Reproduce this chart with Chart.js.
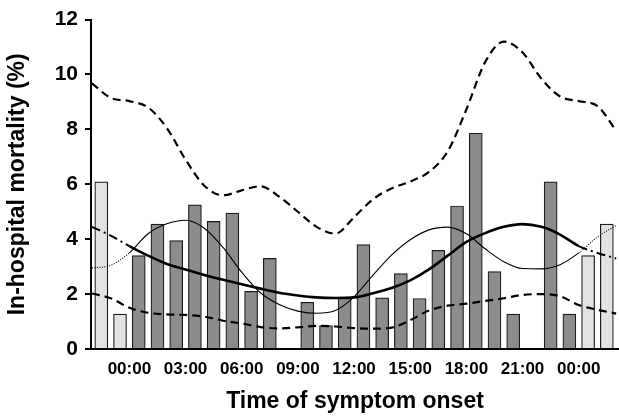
<!DOCTYPE html>
<html>
<head>
<meta charset="utf-8">
<script src="https://cdn.jsdelivr.net/npm/chart.js@4/dist/chart.umd.min.js"></script>
<style>
  body { margin: 0; background: #fff; }
</style>
</head>
<body>
<canvas id="graficoMortalidad" width="619" height="420"></canvas>
<script>
// hourly in-hospital mortality (%), hours 00..23 (null = no bar)
var mortality = [3.4, 4.55, 3.95, 5.25, 4.65, 4.95, 2.1, 3.3, null, 1.7, 0.85, 1.85,
                 3.8, 1.86, 2.75, 1.84, 3.59, 5.21, 7.86, 2.82, 1.27, null, 6.09, 1.27];
// hours repeated at both ends (drawn light)
var wrapHours = [-2, -1, 24, 25];
var wrapSource = [22, 23, 0, 1];

// curves read at each hour, from -2 to 26
var curveHours = [-2, -1, 0, 1, 2, 3, 4, 5, 6, 7, 8, 9, 10, 11, 12, 13, 14,
                  15, 16, 17, 18, 19, 20, 21, 22, 23, 24, 25, 26];
var upperCI = [9.68, 9.15, 9.03, 8.8, 8.05, 6.9, 5.95, 5.6, 5.78, 5.93, 5.55, 5.0, 4.45, 4.2,
               4.8, 5.45, 5.85, 6.1, 6.45, 7.2, 8.73, 10.45, 11.2, 10.8, 9.85, 9.2, 9.03, 8.85, 7.95];
var lowerCI = [2.02, 1.85, 1.5, 1.32, 1.26, 1.24, 1.18, 1.03, 0.93, 0.8, 0.75, 0.79, 0.84, 0.82,
               0.76, 0.74, 0.78, 1.05, 1.4, 1.58, 1.65, 1.75, 1.85, 1.97, 2.0, 1.92, 1.6, 1.43, 1.29];
var fitThick = [4.45, 4.13, 3.75, 3.4, 3.1, 2.9, 2.7, 2.52, 2.36, 2.2, 2.05, 1.95, 1.88, 1.86,
                1.88, 2.03, 2.22, 2.5, 2.9, 3.4, 3.9, 4.22, 4.45, 4.55, 4.45, 4.17, 3.75, 3.5, 3.3];
var fitThin = [2.95, 3.05, 3.5, 4.2, 4.56, 4.69, 4.4, 3.7, 2.8, 2.05, 1.62, 1.38, 1.3, 1.4,
               1.9, 2.68, 3.42, 3.98, 4.34, 4.44, 4.2, 3.65, 3.18, 2.93, 2.92, 3.07, 3.5, 4.08, 4.5];

var tickHours = [0, 3, 6, 9, 12, 15, 18, 21, 24];

function puntos(ys) {
    return curveHours.map(function (h, i) { return {x: h, y: ys[i]}; });
}
function fuera(ctx) {
    return ctx.p0.parsed.x < 0 || ctx.p1.parsed.x > 24;
}

var barrasDia = [];
mortality.forEach(function (v, h) {
    if (v !== null) barrasDia.push({x: h + 0.5, y: v});
});
var barrasExtra = wrapHours.map(function (h, i) {
    return {x: h + 0.5, y: mortality[wrapSource[i]]};
});

var fuente = "'Liberation Sans', Arial, sans-serif";

var ctx = document.getElementById('graficoMortalidad').getContext('2d');
var chart = new Chart(ctx, {
    type: 'bar',
    data: {
        datasets: [{
            type: 'line', data: puntos(upperCI), order: 1,
            borderColor: '#000', borderWidth: 2.2, borderDash: [8, 5],
            pointRadius: 0, cubicInterpolationMode: 'monotone'
        }, {
            type: 'line', data: puntos(lowerCI), order: 1,
            borderColor: '#000', borderWidth: 2.2, borderDash: [8, 5],
            pointRadius: 0, cubicInterpolationMode: 'monotone'
        }, {
            type: 'line', data: puntos(fitThick), order: 1,
            borderColor: '#000', borderWidth: 2.6,
            pointRadius: 0, cubicInterpolationMode: 'monotone',
            segment: {
                borderDash: function (c) { return fuera(c) ? [9, 4, 2, 4] : []; },
                borderWidth: function (c) { return fuera(c) ? 2 : 2.6; }
            }
        }, {
            type: 'line', data: puntos(fitThin), order: 1,
            borderColor: '#000', borderWidth: 1.1,
            pointRadius: 0, cubicInterpolationMode: 'monotone',
            segment: {
                borderDash: function (c) { return fuera(c) ? [1, 1.5] : []; }
            }
        }, {
            data: barrasDia, order: 2, grouped: false,
            backgroundColor: '#8c8c8c', borderColor: '#1a1a1a', borderWidth: 1.2,
            barThickness: 13
        }, {
            data: barrasExtra, order: 2, grouped: false,
            backgroundColor: '#e2e2e2', borderColor: '#1a1a1a', borderWidth: 1.2,
            barThickness: 13
        }]
    },
    options: {
        responsive: false,
        animation: false,
        layout: { padding: { top: 16, right: 0, left: 0, bottom: 0 } },
        plugins: { legend: { display: false }, tooltip: { enabled: false } },
        scales: {
            x: {
                type: 'linear', min: -2.05, max: 26.15, offset: false,
                afterBuildTicks: function (axis) {
                    axis.ticks = tickHours.map(function (v) { return {value: v}; });
                },
                afterFit: function (s) { s.height = 71; },
                grid: { display: false, drawTicks: false },
                border: { color: '#000', width: 2 },
                ticks: {
                    padding: 10, color: '#000', maxRotation: 0, autoSkip: false,
                    font: { family: fuente, size: 17, weight: 'bold' },
                    callback: function (v) {
                        var h = ((v % 24) + 24) % 24;
                        return (h < 10 ? '0' : '') + h + ':00';
                    }
                },
                title: {
                    display: true, text: 'Time of symptom onset', color: '#000',
                    font: { family: fuente, size: 23, weight: 'bold' },
                    padding: { top: 0, bottom: 5 }
                }
            },
            y: {
                min: 0, max: 12,
                afterFit: function (s) { s.width = 91; },
                grid: { drawOnChartArea: false, tickLength: 6, color: '#000', lineWidth: 2 },
                border: { color: '#000', width: 2 },
                ticks: {
                    stepSize: 2, padding: 7, color: '#000',
                    font: { family: fuente, size: 21, weight: 'bold' }
                },
                title: {
                    display: true, text: 'In-hospital mortality (%)', color: '#000',
                    font: { family: fuente, size: 23, weight: 'bold' },
                    padding: { top: 4, bottom: 0 }
                }
            }
        }
    }
});
</script>
</body>
</html>
